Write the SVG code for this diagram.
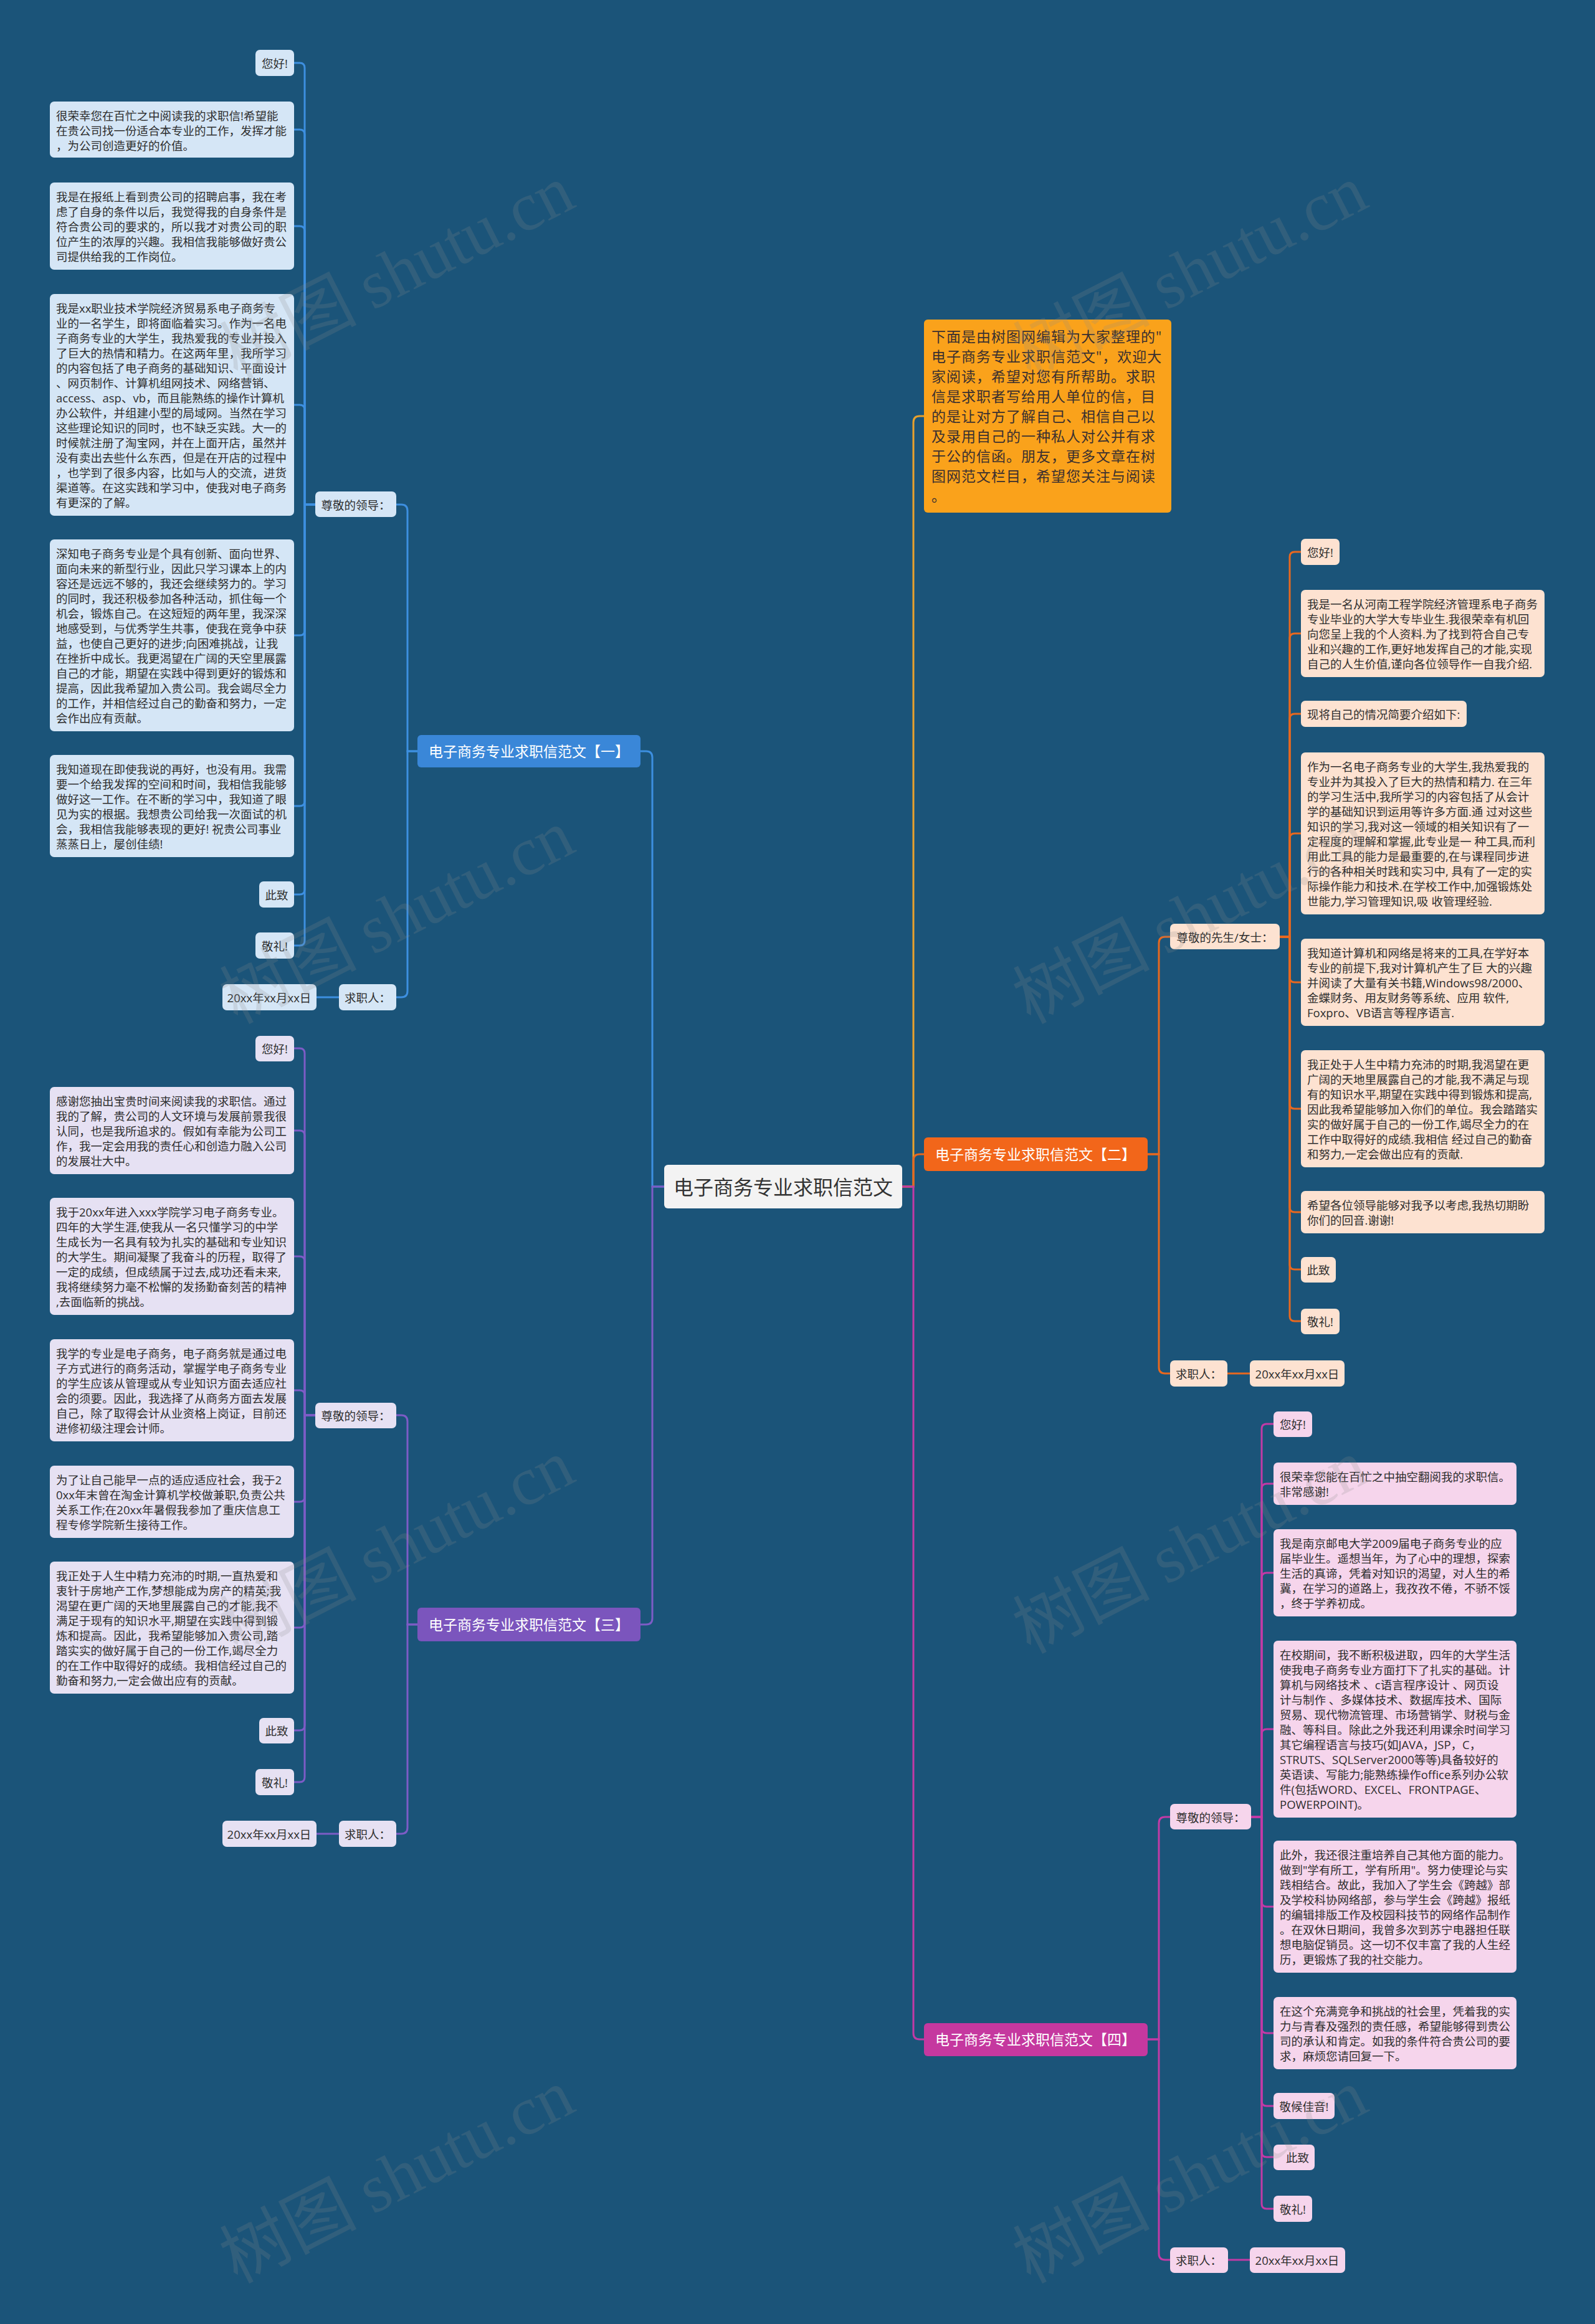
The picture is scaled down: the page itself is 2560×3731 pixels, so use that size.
<svg xmlns="http://www.w3.org/2000/svg" width="2560" height="3731" viewBox="0 0 2560 3731">
<style>
.t{font-family:"Open Sans","Noto Sans CJK SC",sans-serif;font-size:18.5px;fill:#2e2e2e;dominant-baseline:central}
.m{text-anchor:middle}
.lb{font-family:"Open Sans","Noto Sans CJK SC",sans-serif;font-size:23px;fill:#ffffff;dominant-baseline:central;text-anchor:middle}
.ct{font-family:"Open Sans","Noto Sans CJK SC",sans-serif;font-size:32px;fill:#333333;dominant-baseline:central;text-anchor:middle}
.ot{font-family:"Open Sans","Noto Sans CJK SC",sans-serif;font-size:23px;fill:#3a3030;dominant-baseline:central;letter-spacing:1px}
.n1{fill:#d5e6f6}.n2{fill:#fde2d1}.n3{fill:#e6e1f3}.n4{fill:#f6d5ec}
.c{fill:none;stroke-width:3;stroke-linecap:round}
.c1{stroke:#3d8fe0}.c2{stroke:#e8681f}.c3{stroke:#7d5cc6}.c4{stroke:#c23aa6}.c0{stroke:#e9a12c}
.wm{font-family:"Noto Sans CJK SC",sans-serif;font-size:110px;fill:#8c8c8c;opacity:0.2;text-anchor:middle}
</style>
<rect x="0" y="0" width="2560" height="3731" fill="#1b5479"/>

<g id="connectors">
<path class="c c1" d="M1066,1905 H1047 V1216 Q1047,1206 1037,1206 H1028"/>
<path class="c c3" d="M1066,1905 H1047 V2598 Q1047,2608 1037,2608 H1028"/>
<path class="c c0" d="M1448,1905 H1466 V678 Q1466,668 1476,668 H1483"/>
<path class="c c2" d="M1448,1905 H1466 V1863 Q1466,1853 1476,1853 H1483"/>
<path class="c c4" d="M1448,1905 H1466 V3264 Q1466,3274 1476,3274 H1483"/>
<path class="c c1" d="M670,1206 H654 V820 Q654,810 644,810 H636"/>
<path class="c c1" d="M670,1206 H654 V1591 Q654,1601 644,1601 H636"/>
<path class="c c1" d="M544,1601 H508"/>
<path class="c c1" d="M506,810 H489 V109 Q489,101 481,101 H472"/>
<path class="c c1" d="M506,810 H489 V216 Q489,208 481,208 H472"/>
<path class="c c1" d="M506,810 H489 V371 Q489,363 481,363 H472"/>
<path class="c c1" d="M506,810 H489 V658 Q489,650 481,650 H472"/>
<path class="c c1" d="M506,810 H489 V1012 Q489,1020 481,1020 H472"/>
<path class="c c1" d="M506,810 H489 V1286 Q489,1294 481,1294 H472"/>
<path class="c c1" d="M506,810 H489 V1428 Q489,1436 481,1436 H472"/>
<path class="c c1" d="M506,810 H489 V1510 Q489,1518 481,1518 H472"/>
<path class="c c3" d="M670,2608 H654 V2282 Q654,2272 644,2272 H636"/>
<path class="c c3" d="M670,2608 H654 V2934 Q654,2944 644,2944 H636"/>
<path class="c c3" d="M544,2944 H508"/>
<path class="c c3" d="M506,2272 H489 V1691 Q489,1683 481,1683 H472"/>
<path class="c c3" d="M506,2272 H489 V1823 Q489,1815 481,1815 H472"/>
<path class="c c3" d="M506,2272 H489 V2025 Q489,2017 481,2017 H472"/>
<path class="c c3" d="M506,2272 H489 V2240 Q489,2232 481,2232 H472"/>
<path class="c c3" d="M506,2272 H489 V2403 Q489,2411 481,2411 H472"/>
<path class="c c3" d="M506,2272 H489 V2605 Q489,2613 481,2613 H472"/>
<path class="c c3" d="M506,2272 H489 V2770 Q489,2778 481,2778 H472"/>
<path class="c c3" d="M506,2272 H489 V2853 Q489,2861 481,2861 H472"/>
<path class="c c2" d="M1842,1853 H1860 V1514 Q1860,1504 1870,1504 H1878"/>
<path class="c c2" d="M1842,1853 H1860 V2195 Q1860,2205 1870,2205 H1878"/>
<path class="c c2" d="M1970,2205 H2006"/>
<path class="c c2" d="M2054,1504 H2070 V894 Q2070,886 2078,886 H2088"/>
<path class="c c2" d="M2054,1504 H2070 V1025 Q2070,1017 2078,1017 H2088"/>
<path class="c c2" d="M2054,1504 H2070 V1154 Q2070,1146 2078,1146 H2088"/>
<path class="c c2" d="M2054,1504 H2070 V1346 Q2070,1338 2078,1338 H2088"/>
<path class="c c2" d="M2054,1504 H2070 V1569 Q2070,1577 2078,1577 H2088"/>
<path class="c c2" d="M2054,1504 H2070 V1772 Q2070,1780 2078,1780 H2088"/>
<path class="c c2" d="M2054,1504 H2070 V1938 Q2070,1946 2078,1946 H2088"/>
<path class="c c2" d="M2054,1504 H2070 V2030 Q2070,2038 2078,2038 H2088"/>
<path class="c c2" d="M2054,1504 H2070 V2113 Q2070,2121 2078,2121 H2088"/>
<path class="c c4" d="M1842,3274 H1860 V2927 Q1860,2917 1870,2917 H1878"/>
<path class="c c4" d="M1842,3274 H1860 V3618 Q1860,3628 1870,3628 H1878"/>
<path class="c c4" d="M1971,3628 H2006"/>
<path class="c c4" d="M2008,2917 H2025 V2294 Q2025,2286 2033,2286 H2044"/>
<path class="c c4" d="M2008,2917 H2025 V2390 Q2025,2382 2033,2382 H2044"/>
<path class="c c4" d="M2008,2917 H2025 V2533 Q2025,2525 2033,2525 H2044"/>
<path class="c c4" d="M2008,2917 H2025 V2784 Q2025,2776 2033,2776 H2044"/>
<path class="c c4" d="M2008,2917 H2025 V3053 Q2025,3061 2033,3061 H2044"/>
<path class="c c4" d="M2008,2917 H2025 V3256 Q2025,3264 2033,3264 H2044"/>
<path class="c c4" d="M2008,2917 H2025 V3373 Q2025,3381 2033,3381 H2044"/>
<path class="c c4" d="M2008,2917 H2025 V3455 Q2025,3463 2033,3463 H2044"/>
<path class="c c4" d="M2008,2917 H2025 V3538 Q2025,3546 2033,3546 H2044"/>
</g>

<g id="center">
<rect x="1066" y="1870" width="382" height="70" rx="6" fill="#f3f3f3"/>
<text class="ct" x="1257" y="1905">电子商务专业求职信范文</text>
</g>

<g id="intro">
<rect x="1483" y="513" width="397" height="310" rx="6" fill="#faa21b"/>
<text class="ot" x="1495" y="540"><tspan x="1495" dy="0">下面是由树图网编辑为大家整理的"</tspan><tspan x="1495" dy="32">电子商务专业求职信范文"，欢迎大</tspan><tspan x="1495" dy="32">家阅读，希望对您有所帮助。求职</tspan><tspan x="1495" dy="32">信是求职者写给用人单位的信，目</tspan><tspan x="1495" dy="32">的是让对方了解自己、相信自己以</tspan><tspan x="1495" dy="32">及录用自己的一种私人对公并有求</tspan><tspan x="1495" dy="32">于公的信函。朋友，更多文章在树</tspan><tspan x="1495" dy="32">图网范文栏目，希望您关注与阅读</tspan><tspan x="1495" dy="32">。</tspan></text>
</g>

<g id="b1-label">
<rect x="670" y="1180" width="358" height="52" rx="6" fill="#3a87d8"/>
<text class="lb" x="849" y="1206">电子商务专业求职信范文【一】</text>
</g>
<g id="b1-greet">
<rect class="n1" x="506" y="789" width="130" height="41" rx="7"/>
<text class="t m" x="571" y="810">尊敬的领导：</text>
</g>
<g id="b1-c1"><rect class="n1" x="410" y="80" width="62" height="42" rx="7"/><text class="t m" x="441" y="101">您好!</text></g>
<g id="b1-c2"><rect class="n1" x="80" y="163" width="392" height="90" rx="7"/>
<text class="t" x="90" y="185"><tspan x="90" dy="0">很荣幸您在百忙之中阅读我的求职信!希望能</tspan><tspan x="90" dy="24">在贵公司找一份适合本专业的工作，发挥才能</tspan><tspan x="90" dy="24">，为公司创造更好的价值。</tspan></text></g>
<g id="b1-c3"><rect class="n1" x="80" y="293" width="392" height="140" rx="7"/>
<text class="t" x="90" y="315"><tspan x="90" dy="0">我是在报纸上看到贵公司的招聘启事，我在考</tspan><tspan x="90" dy="24">虑了自身的条件以后，我觉得我的自身条件是</tspan><tspan x="90" dy="24">符合贵公司的要求的，所以我才对贵公司的职</tspan><tspan x="90" dy="24">位产生的浓厚的兴趣。我相信我能够做好贵公</tspan><tspan x="90" dy="24">司提供给我的工作岗位。</tspan></text></g>
<g id="b1-c4"><rect class="n1" x="80" y="472" width="392" height="356" rx="7"/>
<text class="t" x="90" y="494"><tspan x="90" dy="0">我是xx职业技术学院经济贸易系电子商务专</tspan><tspan x="90" dy="24">业的一名学生，即将面临着实习。作为一名电</tspan><tspan x="90" dy="24">子商务专业的大学生，我热爱我的专业并投入</tspan><tspan x="90" dy="24">了巨大的热情和精力。在这两年里，我所学习</tspan><tspan x="90" dy="24">的内容包括了电子商务的基础知识、平面设计</tspan><tspan x="90" dy="24">、网页制作、计算机组网技术、网络营销、</tspan><tspan x="90" dy="24">access、asp、vb，而且能熟练的操作计算机</tspan><tspan x="90" dy="24">办公软件，并组建小型的局域网。当然在学习</tspan><tspan x="90" dy="24">这些理论知识的同时，也不缺乏实践。大一的</tspan><tspan x="90" dy="24">时候就注册了淘宝网，并在上面开店，虽然并</tspan><tspan x="90" dy="24">没有卖出去些什么东西，但是在开店的过程中</tspan><tspan x="90" dy="24">，也学到了很多内容，比如与人的交流，进货</tspan><tspan x="90" dy="24">渠道等。在这实践和学习中，使我对电子商务</tspan><tspan x="90" dy="24">有更深的了解。</tspan></text></g>
<g id="b1-c5"><rect class="n1" x="80" y="866" width="392" height="308" rx="7"/>
<text class="t" x="90" y="888"><tspan x="90" dy="0">深知电子商务专业是个具有创新、面向世界、</tspan><tspan x="90" dy="24">面向未来的新型行业，因此只学习课本上的内</tspan><tspan x="90" dy="24">容还是远远不够的，我还会继续努力的。学习</tspan><tspan x="90" dy="24">的同时，我还积极参加各种活动，抓住每一个</tspan><tspan x="90" dy="24">机会，锻炼自己。在这短短的两年里，我深深</tspan><tspan x="90" dy="24">地感受到，与优秀学生共事，使我在竞争中获</tspan><tspan x="90" dy="24">益，也使自己更好的进步;向困难挑战，让我</tspan><tspan x="90" dy="24">在挫折中成长。我更渴望在广阔的天空里展露</tspan><tspan x="90" dy="24">自己的才能，期望在实践中得到更好的锻炼和</tspan><tspan x="90" dy="24">提高，因此我希望加入贵公司。我会竭尽全力</tspan><tspan x="90" dy="24">的工作，并相信经过自己的勤奋和努力，一定</tspan><tspan x="90" dy="24">会作出应有贡献。</tspan></text></g>
<g id="b1-c6"><rect class="n1" x="80" y="1212" width="392" height="164" rx="7"/>
<text class="t" x="90" y="1234"><tspan x="90" dy="0">我知道现在即使我说的再好，也没有用。我需</tspan><tspan x="90" dy="24">要一个给我发挥的空间和时间，我相信我能够</tspan><tspan x="90" dy="24">做好这一工作。在不断的学习中，我知道了眼</tspan><tspan x="90" dy="24">见为实的根据。我想贵公司给我一次面试的机</tspan><tspan x="90" dy="24">会，我相信我能够表现的更好! 祝贵公司事业</tspan><tspan x="90" dy="24">蒸蒸日上，屡创佳绩!</tspan></text></g>
<g id="b1-c7"><rect class="n1" x="416" y="1415" width="56" height="42" rx="7"/><text class="t m" x="444" y="1436">此致</text></g>
<g id="b1-c8"><rect class="n1" x="410" y="1497" width="62" height="42" rx="7"/><text class="t m" x="441" y="1518">敬礼!</text></g>
<g id="b1-sign"><rect class="n1" x="544" y="1580" width="92" height="42" rx="7"/><text class="t m" x="590" y="1601">求职人：</text></g>
<g id="b1-date"><rect class="n1" x="357" y="1580" width="151" height="42" rx="7"/><text class="t m" x="432" y="1601">20xx年xx月xx日</text></g>

<g id="b3-label">
<rect x="670" y="2581" width="358" height="54" rx="6" fill="#7b55bd"/>
<text class="lb" x="849" y="2608">电子商务专业求职信范文【三】</text>
</g>
<g id="b3-greet"><rect class="n3" x="506" y="2252" width="130" height="41" rx="7"/><text class="t m" x="571" y="2272">尊敬的领导：</text></g>
<g id="b3-c1"><rect class="n3" x="410" y="1663" width="62" height="41" rx="7"/><text class="t m" x="441" y="1683">您好!</text></g>
<g id="b3-c2"><rect class="n3" x="80" y="1745" width="392" height="140" rx="7"/>
<text class="t" x="90" y="1767"><tspan x="90" dy="0">感谢您抽出宝贵时间来阅读我的求职信。通过</tspan><tspan x="90" dy="24">我的了解，贵公司的人文环境与发展前景我很</tspan><tspan x="90" dy="24">认同，也是我所追求的。假如有幸能为公司工</tspan><tspan x="90" dy="24">作，我一定会用我的责任心和创造力融入公司</tspan><tspan x="90" dy="24">的发展壮大中。</tspan></text></g>
<g id="b3-c3"><rect class="n3" x="80" y="1923" width="392" height="188" rx="7"/>
<text class="t" x="90" y="1945"><tspan x="90" dy="0">我于20xx年进入xxx学院学习电子商务专业。</tspan><tspan x="90" dy="24">四年的大学生涯,使我从一名只懂学习的中学</tspan><tspan x="90" dy="24">生成长为一名具有较为扎实的基础和专业知识</tspan><tspan x="90" dy="24">的大学生。期间凝聚了我奋斗的历程，取得了</tspan><tspan x="90" dy="24">一定的成绩，但成绩属于过去,成功还看未来,</tspan><tspan x="90" dy="24">我将继续努力毫不松懈的发扬勤奋刻苦的精神</tspan><tspan x="90" dy="24">,去面临新的挑战。</tspan></text></g>
<g id="b3-c4"><rect class="n3" x="80" y="2150" width="392" height="164" rx="7"/>
<text class="t" x="90" y="2172"><tspan x="90" dy="0">我学的专业是电子商务，电子商务就是通过电</tspan><tspan x="90" dy="24">子方式进行的商务活动，掌握学电子商务专业</tspan><tspan x="90" dy="24">的学生应该从管理或从专业知识方面去适应社</tspan><tspan x="90" dy="24">会的须要。因此，我选择了从商务方面去发展</tspan><tspan x="90" dy="24">自己，除了取得会计从业资格上岗证，目前还</tspan><tspan x="90" dy="24">进修初级注理会计师。</tspan></text></g>
<g id="b3-c5"><rect class="n3" x="80" y="2353" width="392" height="116" rx="7"/>
<text class="t" x="90" y="2375"><tspan x="90" dy="0">为了让自己能早一点的适应适应社会，我于2</tspan><tspan x="90" dy="24">0xx年末曾在淘金计算机学校做兼职,负责公共</tspan><tspan x="90" dy="24">关系工作;在20xx年暑假我参加了重庆信息工</tspan><tspan x="90" dy="24">程专修学院新生接待工作。</tspan></text></g>
<g id="b3-c6"><rect class="n3" x="80" y="2507" width="392" height="212" rx="7"/>
<text class="t" x="90" y="2529"><tspan x="90" dy="0">我正处于人生中精力充沛的时期,一直热爱和</tspan><tspan x="90" dy="24">衷针于房地产工作,梦想能成为房产的精英;我</tspan><tspan x="90" dy="24">渴望在更广阔的天地里展露自己的才能,我不</tspan><tspan x="90" dy="24">满足于现有的知识水平,期望在实践中得到锻</tspan><tspan x="90" dy="24">炼和提高。因此，我希望能够加入贵公司,踏</tspan><tspan x="90" dy="24">踏实实的做好属于自己的一份工作,竭尽全力</tspan><tspan x="90" dy="24">的在工作中取得好的成绩。我相信经过自己的</tspan><tspan x="90" dy="24">勤奋和努力,一定会做出应有的贡献。</tspan></text></g>
<g id="b3-c7"><rect class="n3" x="416" y="2758" width="56" height="41" rx="7"/><text class="t m" x="444" y="2778">此致</text></g>
<g id="b3-c8"><rect class="n3" x="410" y="2840" width="62" height="42" rx="7"/><text class="t m" x="441" y="2861">敬礼!</text></g>
<g id="b3-sign"><rect class="n3" x="544" y="2923" width="92" height="42" rx="7"/><text class="t m" x="590" y="2944">求职人：</text></g>
<g id="b3-date"><rect class="n3" x="357" y="2923" width="151" height="42" rx="7"/><text class="t m" x="432" y="2944">20xx年xx月xx日</text></g>

<g id="b2-label">
<rect x="1483" y="1826" width="359" height="54" rx="6" fill="#f2661a"/>
<text class="lb" x="1662" y="1853">电子商务专业求职信范文【二】</text>
</g>
<g id="b2-greet"><rect class="n2" x="1878" y="1483" width="176" height="41" rx="7"/><text class="t m" x="1966" y="1504">尊敬的先生/女士：</text></g>
<g id="b2-c1"><rect class="n2" x="2088" y="865" width="62" height="42" rx="7"/><text class="t m" x="2119" y="886">您好!</text></g>
<g id="b2-c2"><rect class="n2" x="2088" y="947" width="391" height="140" rx="7"/>
<text class="t" x="2098" y="969"><tspan x="2098" dy="0">我是一名从河南工程学院经济管理系电子商务</tspan><tspan x="2098" dy="24">专业毕业的大学大专毕业生.我很荣幸有机回</tspan><tspan x="2098" dy="24">向您呈上我的个人资料.为了找到符合自己专</tspan><tspan x="2098" dy="24">业和兴趣的工作,更好地发挥自己的才能,实现</tspan><tspan x="2098" dy="24">自己的人生价值,谨向各位领导作一自我介绍.</tspan></text></g>
<g id="b2-c3"><rect class="n2" x="2088" y="1125" width="266" height="42" rx="7"/><text class="t" x="2098" y="1146">现将自己的情况简要介绍如下:</text></g>
<g id="b2-c4"><rect class="n2" x="2088" y="1208" width="391" height="260" rx="7"/>
<text class="t" x="2098" y="1230"><tspan x="2098" dy="0">作为一名电子商务专业的大学生,我热爱我的</tspan><tspan x="2098" dy="24">专业并为其投入了巨大的热情和精力. 在三年</tspan><tspan x="2098" dy="24">的学习生活中,我所学习的内容包括了从会计</tspan><tspan x="2098" dy="24">学的基础知识到运用等许多方面.通 过对这些</tspan><tspan x="2098" dy="24">知识的学习,我对这一领域的相关知识有了一</tspan><tspan x="2098" dy="24">定程度的理解和掌握,此专业是一 种工具,而利</tspan><tspan x="2098" dy="24">用此工具的能力是最重要的,在与课程同步进</tspan><tspan x="2098" dy="24">行的各种相关时践和实习中, 具有了一定的实</tspan><tspan x="2098" dy="24">际操作能力和技术.在学校工作中,加强锻炼处</tspan><tspan x="2098" dy="24">世能力,学习管理知识,吸 收管理经验.</tspan></text></g>
<g id="b2-c5"><rect class="n2" x="2088" y="1507" width="391" height="140" rx="7"/>
<text class="t" x="2098" y="1529"><tspan x="2098" dy="0">我知道计算机和网络是将来的工具,在学好本</tspan><tspan x="2098" dy="24">专业的前提下,我对计算机产生了巨 大的兴趣</tspan><tspan x="2098" dy="24">并阅读了大量有关书籍,Windows98/2000、</tspan><tspan x="2098" dy="24">金蝶财务、用友财务等系统、应用 软件,</tspan><tspan x="2098" dy="24">Foxpro、VB语言等程序语言.</tspan></text></g>
<g id="b2-c6"><rect class="n2" x="2088" y="1686" width="391" height="188" rx="7"/>
<text class="t" x="2098" y="1708"><tspan x="2098" dy="0">我正处于人生中精力充沛的时期,我渴望在更</tspan><tspan x="2098" dy="24">广阔的天地里展露自己的才能,我不满足与现</tspan><tspan x="2098" dy="24">有的知识水平,期望在实践中得到锻炼和提高,</tspan><tspan x="2098" dy="24">因此我希望能够加入你们的单位。我会踏踏实</tspan><tspan x="2098" dy="24">实的做好属于自己的一份工作,竭尽全力的在</tspan><tspan x="2098" dy="24">工作中取得好的成绩.我相信 经过自己的勤奋</tspan><tspan x="2098" dy="24">和努力,一定会做出应有的贡献.</tspan></text></g>
<g id="b2-c7"><rect class="n2" x="2088" y="1912" width="391" height="68" rx="7"/>
<text class="t" x="2098" y="1934"><tspan x="2098" dy="0">希望各位领导能够对我予以考虑,我热切期盼</tspan><tspan x="2098" dy="24">你们的回音.谢谢!</tspan></text></g>
<g id="b2-c8"><rect class="n2" x="2088" y="2018" width="56" height="41" rx="7"/><text class="t m" x="2116" y="2038">此致</text></g>
<g id="b2-c9"><rect class="n2" x="2088" y="2101" width="62" height="41" rx="7"/><text class="t m" x="2119" y="2121">敬礼!</text></g>
<g id="b2-sign"><rect class="n2" x="1878" y="2184" width="92" height="42" rx="7"/><text class="t m" x="1924" y="2205">求职人：</text></g>
<g id="b2-date"><rect class="n2" x="2006" y="2184" width="152" height="42" rx="7"/><text class="t m" x="2082" y="2205">20xx年xx月xx日</text></g>

<g id="b4-label">
<rect x="1483" y="3248" width="359" height="53" rx="6" fill="#c5389f"/>
<text class="lb" x="1662" y="3274">电子商务专业求职信范文【四】</text>
</g>
<g id="b4-greet"><rect class="n4" x="1878" y="2896" width="130" height="41" rx="7"/><text class="t m" x="1943" y="2917">尊敬的领导：</text></g>
<g id="b4-c1"><rect class="n4" x="2044" y="2266" width="62" height="41" rx="7"/><text class="t m" x="2075" y="2286">您好!</text></g>
<g id="b4-c2"><rect class="n4" x="2044" y="2348" width="390" height="68" rx="7"/>
<text class="t" x="2054" y="2370"><tspan x="2054" dy="0">很荣幸您能在百忙之中抽空翻阅我的求职信。</tspan><tspan x="2054" dy="24">非常感谢!</tspan></text></g>
<g id="b4-c3"><rect class="n4" x="2044" y="2455" width="390" height="140" rx="7"/>
<text class="t" x="2054" y="2477"><tspan x="2054" dy="0">我是南京邮电大学2009届电子商务专业的应</tspan><tspan x="2054" dy="24">届毕业生。遥想当年，为了心中的理想，探索</tspan><tspan x="2054" dy="24">生活的真谛，凭着对知识的渴望，对人生的希</tspan><tspan x="2054" dy="24">冀，在学习的道路上，我孜孜不倦，不骄不馁</tspan><tspan x="2054" dy="24">，终于学养初成。</tspan></text></g>
<g id="b4-c4"><rect class="n4" x="2044" y="2634" width="390" height="284" rx="7"/>
<text class="t" x="2054" y="2656"><tspan x="2054" dy="0">在校期间，我不断积极进取，四年的大学生活</tspan><tspan x="2054" dy="24">使我电子商务专业方面打下了扎实的基础。计</tspan><tspan x="2054" dy="24">算机与网络技术 、c语言程序设计 、网页设</tspan><tspan x="2054" dy="24">计与制作 、多媒体技术、数据库技术、国际</tspan><tspan x="2054" dy="24">贸易、现代物流管理、市场营销学、财税与金</tspan><tspan x="2054" dy="24">融、等科目。除此之外我还利用课余时间学习</tspan><tspan x="2054" dy="24">其它编程语言与技巧(如JAVA，JSP，C，</tspan><tspan x="2054" dy="24">STRUTS、SQLServer2000等等)具备较好的</tspan><tspan x="2054" dy="24">英语读、写能力;能熟练操作office系列办公软</tspan><tspan x="2054" dy="24">件(包括WORD、EXCEL、FRONTPAGE、</tspan><tspan x="2054" dy="24">POWERPOINT)。</tspan></text></g>
<g id="b4-c5"><rect class="n4" x="2044" y="2955" width="390" height="212" rx="7"/>
<text class="t" x="2054" y="2977"><tspan x="2054" dy="0">此外，我还很注重培养自己其他方面的能力。</tspan><tspan x="2054" dy="24">做到"学有所工，学有所用"。努力使理论与实</tspan><tspan x="2054" dy="24">践相结合。故此，我加入了学生会《跨越》部</tspan><tspan x="2054" dy="24">及学校科协网络部，参与学生会《跨越》报纸</tspan><tspan x="2054" dy="24">的编辑排版工作及校园科技节的网络作品制作</tspan><tspan x="2054" dy="24">。在双休日期间，我曾多次到苏宁电器担任联</tspan><tspan x="2054" dy="24">想电脑促销员。这一切不仅丰富了我的人生经</tspan><tspan x="2054" dy="24">历，更锻炼了我的社交能力。</tspan></text></g>
<g id="b4-c6"><rect class="n4" x="2044" y="3206" width="390" height="116" rx="7"/>
<text class="t" x="2054" y="3228"><tspan x="2054" dy="0">在这个充满竞争和挑战的社会里，凭着我的实</tspan><tspan x="2054" dy="24">力与青春及强烈的责任感，希望能够得到贵公</tspan><tspan x="2054" dy="24">司的承认和肯定。如我的条件符合贵公司的要</tspan><tspan x="2054" dy="24">求，麻烦您请回复一下。</tspan></text></g>
<g id="b4-c7"><rect class="n4" x="2044" y="3360" width="98" height="42" rx="7"/><text class="t m" x="2093" y="3381">敬候佳音!</text></g>
<g id="b4-c8"><rect class="n4" x="2044" y="3443" width="66" height="41" rx="7"/><text class="t" x="2064" y="3463">此致</text></g>
<g id="b4-c9"><rect class="n4" x="2044" y="3525" width="62" height="42" rx="7"/><text class="t m" x="2075" y="3546">敬礼!</text></g>
<g id="b4-sign"><rect class="n4" x="1878" y="3608" width="93" height="41" rx="7"/><text class="t m" x="1924" y="3628">求职人：</text></g>
<g id="b4-date"><rect class="n4" x="2006" y="3608" width="153" height="41" rx="7"/><text class="t m" x="2082" y="3628">20xx年xx月xx日</text></g>

<g id="watermarks">
<text class="wm" transform="translate(654,470) rotate(-27)">树图 <tspan font-family="Liberation Serif, serif">shutu.cn</tspan></text>
<text class="wm" transform="translate(1927,470) rotate(-27)">树图 <tspan font-family="Liberation Serif, serif">shutu.cn</tspan></text>
<text class="wm" transform="translate(654,1505) rotate(-27)">树图 <tspan font-family="Liberation Serif, serif">shutu.cn</tspan></text>
<text class="wm" transform="translate(1927,1505) rotate(-27)">树图 <tspan font-family="Liberation Serif, serif">shutu.cn</tspan></text>
<text class="wm" transform="translate(654,2516) rotate(-27)">树图 <tspan font-family="Liberation Serif, serif">shutu.cn</tspan></text>
<text class="wm" transform="translate(1927,2516) rotate(-27)">树图 <tspan font-family="Liberation Serif, serif">shutu.cn</tspan></text>
<text class="wm" transform="translate(654,3527) rotate(-27)">树图 <tspan font-family="Liberation Serif, serif">shutu.cn</tspan></text>
<text class="wm" transform="translate(1927,3527) rotate(-27)">树图 <tspan font-family="Liberation Serif, serif">shutu.cn</tspan></text>
</g>
</svg>
